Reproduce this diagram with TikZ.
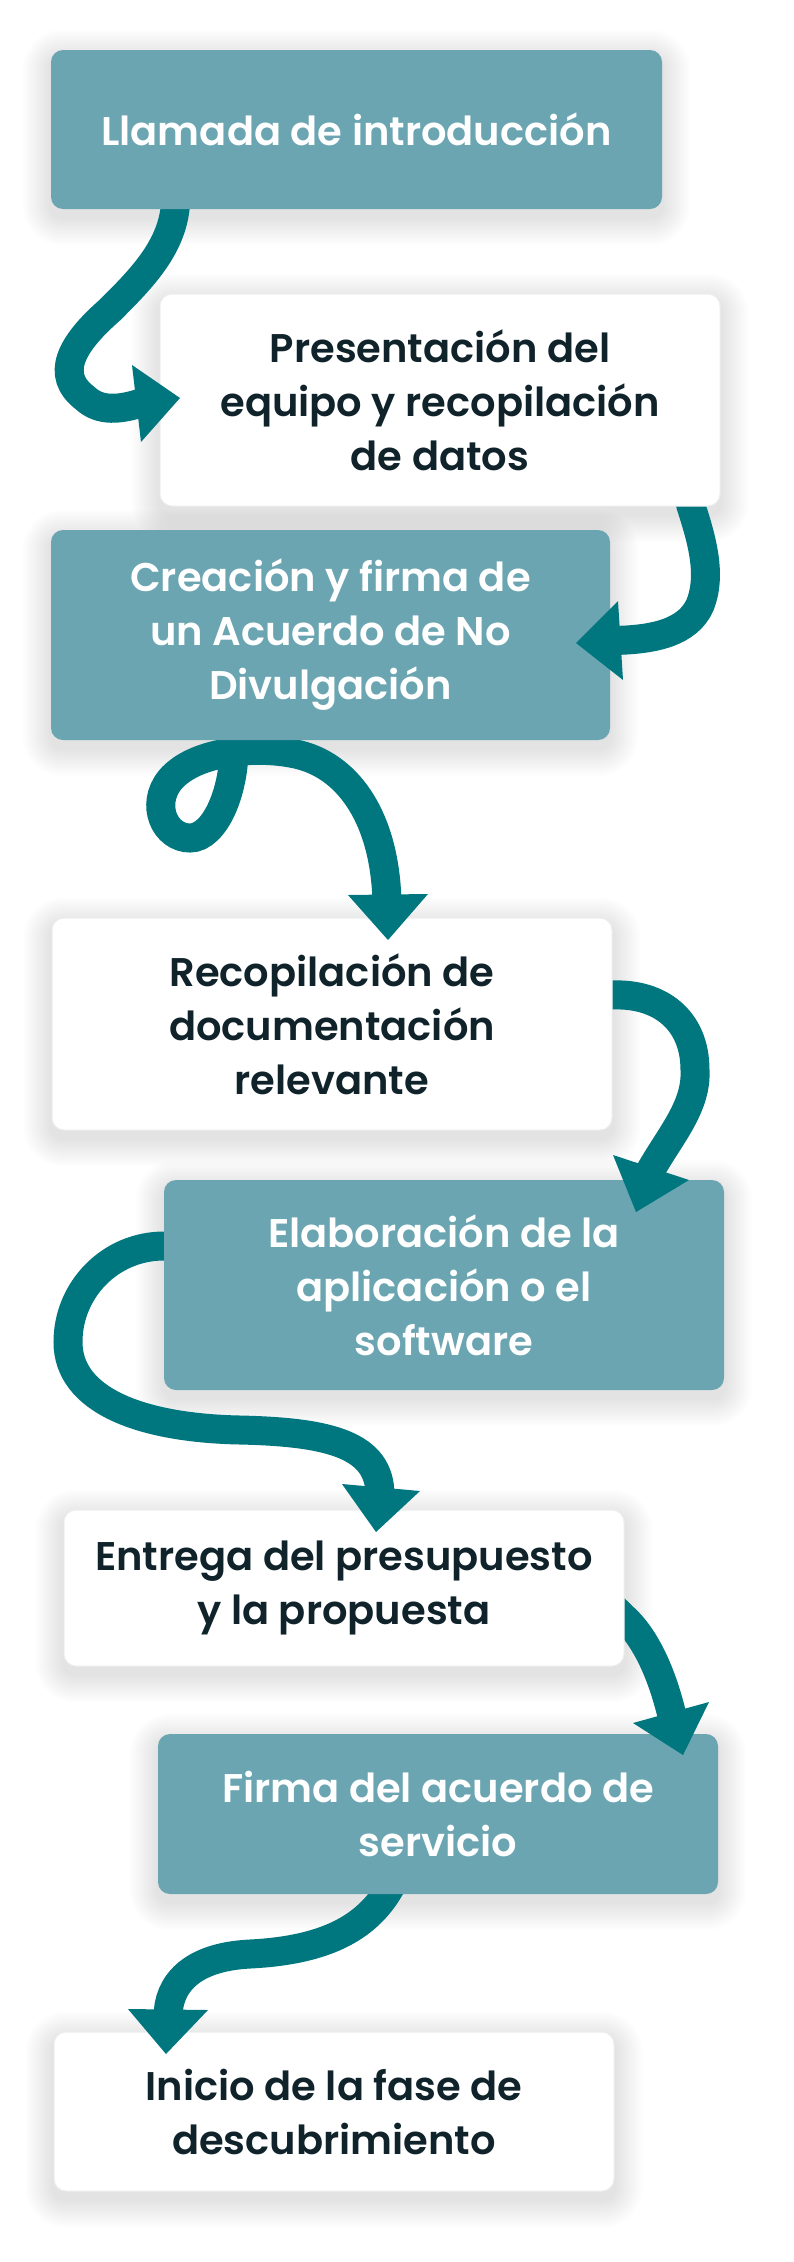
\documentclass[tikz,border=0pt]{standalone}
\usepackage{fontspec}
\setmainfont{Poppins SemiBold}
\usetikzlibrary{calc}
\definecolor{boxteal}{HTML}{6AA5B1}
\definecolor{arrteal}{HTML}{00767F}
\definecolor{ink}{HTML}{10222A}
\definecolor{edgegray}{HTML}{EBEEEF}
\pgfdeclarelayer{shade}
\pgfdeclarelayer{back}
\pgfdeclarelayer{front}
\pgfsetlayers{shade,back,main,front}
\tikzset{
  box/.style={rectangle, rounded corners=12pt, minimum width=560pt, inner sep=0pt, align=center,
    font=\fontsize{40}{54}\selectfont},
  tealbox/.style={box, fill=boxteal, text=white},
  whitebox/.style={box, fill=white, draw=edgegray, line width=1pt, text=ink},
  flow/.style={draw=arrteal, line width=29pt},
  head/.style={fill=arrteal},
  halo/.style={fill=black, opacity=0.009},
}
\begin{document}
\begin{tikzpicture}[x=1pt,y=-1pt]
\useasboundingbox (0,0) rectangle (794,2262);
\begin{pgfonlayer}{shade}
\fill[white] (0,0) rectangle (794,2262);
\end{pgfonlayer}

\node[tealbox, minimum width=611pt, minimum height=159pt] (b1) at (356.5,129.5) {Llamada de introducción};
\node[whitebox, minimum height=212pt] (b2) at (440,400) {Presentación del\\equipo y recopilación\\de datos};
\node[tealbox, minimum width=559pt, minimum height=210pt] (b3) at (330.5,635) {Creación y firma de\\un Acuerdo de No\\Divulgación};
\node[whitebox, minimum height=212pt] (b4) at (332,1024) {Recopilación de\\documentación\\relevante};
\node[tealbox, minimum height=210pt] (b5) at (444,1285) {Elaboración de la\\aplicación o el\\software};
\node[whitebox, minimum height=156pt] (b6) at (344,1588) {Entrega del presupuesto\\y la propuesta};
\node[tealbox, minimum height=160pt] (b7) at (438,1814) {Firma del acuerdo de\\servicio};
\node[whitebox, minimum height=159pt] (b8) at (334,2111.5) {Inicio de la fase de\\descubrimiento};

\begin{pgfonlayer}{shade}
\foreach \n in {b1,b2,b3,b4,b5,b6,b7,b8} {
  \foreach \k in {1,...,14} {
    \pgfmathsetmacro{\rr}{12+2*\k}
    \fill[halo, rounded corners=\rr pt] ($(\n.north west)+(-2*\k,-2*\k+8)$) rectangle ($(\n.south east)+(2*\k,2*\k+8)$);
  }
}
\end{pgfonlayer}

\coordinate (t1) at (180,398);
\coordinate (t2) at (576,643);
\coordinate (t3) at (388,940);
\coordinate (t4) at (636,1212);
\coordinate (t5) at (376,1532);
\coordinate (t6) at (683,1755);
\coordinate (t7) at (166,2054);

\begin{pgfonlayer}{back}
\draw[flow] ($(b1.south west)+(126,-14)$) -- (175,209) .. controls (170,250) and (140,280) .. (110,310)
  .. controls (70,345) and (55,375) .. (85,398) .. controls (100,412) and (120,410) .. (144,402);
\draw[flow] ($(b2.south east)+(-33,-14)$) -- (691,506) .. controls (702,540) and (712,575) .. (700,605)
  .. controls (688,632) and (655,640) .. (612,640.5);
\draw[flow] ($(b3.south west)+(183,-15)$) -- (234,740) .. controls (236,790) and (215,838) .. (190,838)
  .. controls (165,838) and (150,805) .. (170,780) .. controls (195,750) and (260,745) .. (300,755)
  .. controls (350,768) and (385,820) .. (387,902);
\draw[flow] ($(b4.east)+(-14,-29)$) -- (612,995) .. controls (660,993) and (695,1020) .. (695,1070)
  .. controls (697,1108) and (668,1138) .. (648,1175);
\draw[flow] ($(b5.west)+(14,-39)$) -- (164,1246) .. controls (110,1246) and (68,1290) .. (68,1342)
  .. controls (68,1400) and (140,1428) .. (240,1430) .. controls (330,1432) and (380,1445) .. (380,1495);
\draw[flow] ($(b6.east)+(-16,15)$) -- (624,1618) .. controls (648,1640) and (664,1680) .. (673,1720);
\draw[flow] ($(b7.south)+(-38,-25)$) -- (392,1884) .. controls (370,1925) and (330,1950) .. (250,1954)
  .. controls (190,1957) and (168,1985) .. (168,2017);
\end{pgfonlayer}

\begin{pgfonlayer}{front}
\fill[head] (132,365) -- (t1) -- (141,442) -- cycle;
\fill[head] (618,601) -- (t2) -- (623,680) -- cycle;
\fill[head] (348,895) -- (t3) -- (428,894) -- cycle;
\fill[head] (613,1155) -- (t4) -- (689,1180) -- cycle;
\fill[head] (342,1484) -- (t5) -- (420,1491) -- cycle;
\fill[head] (633,1723) -- (t6) -- (709,1702) -- cycle;
\fill[head] (128,2009) -- (t7) -- (208,2010) -- cycle;
\end{pgfonlayer}
\end{tikzpicture}
\end{document}
